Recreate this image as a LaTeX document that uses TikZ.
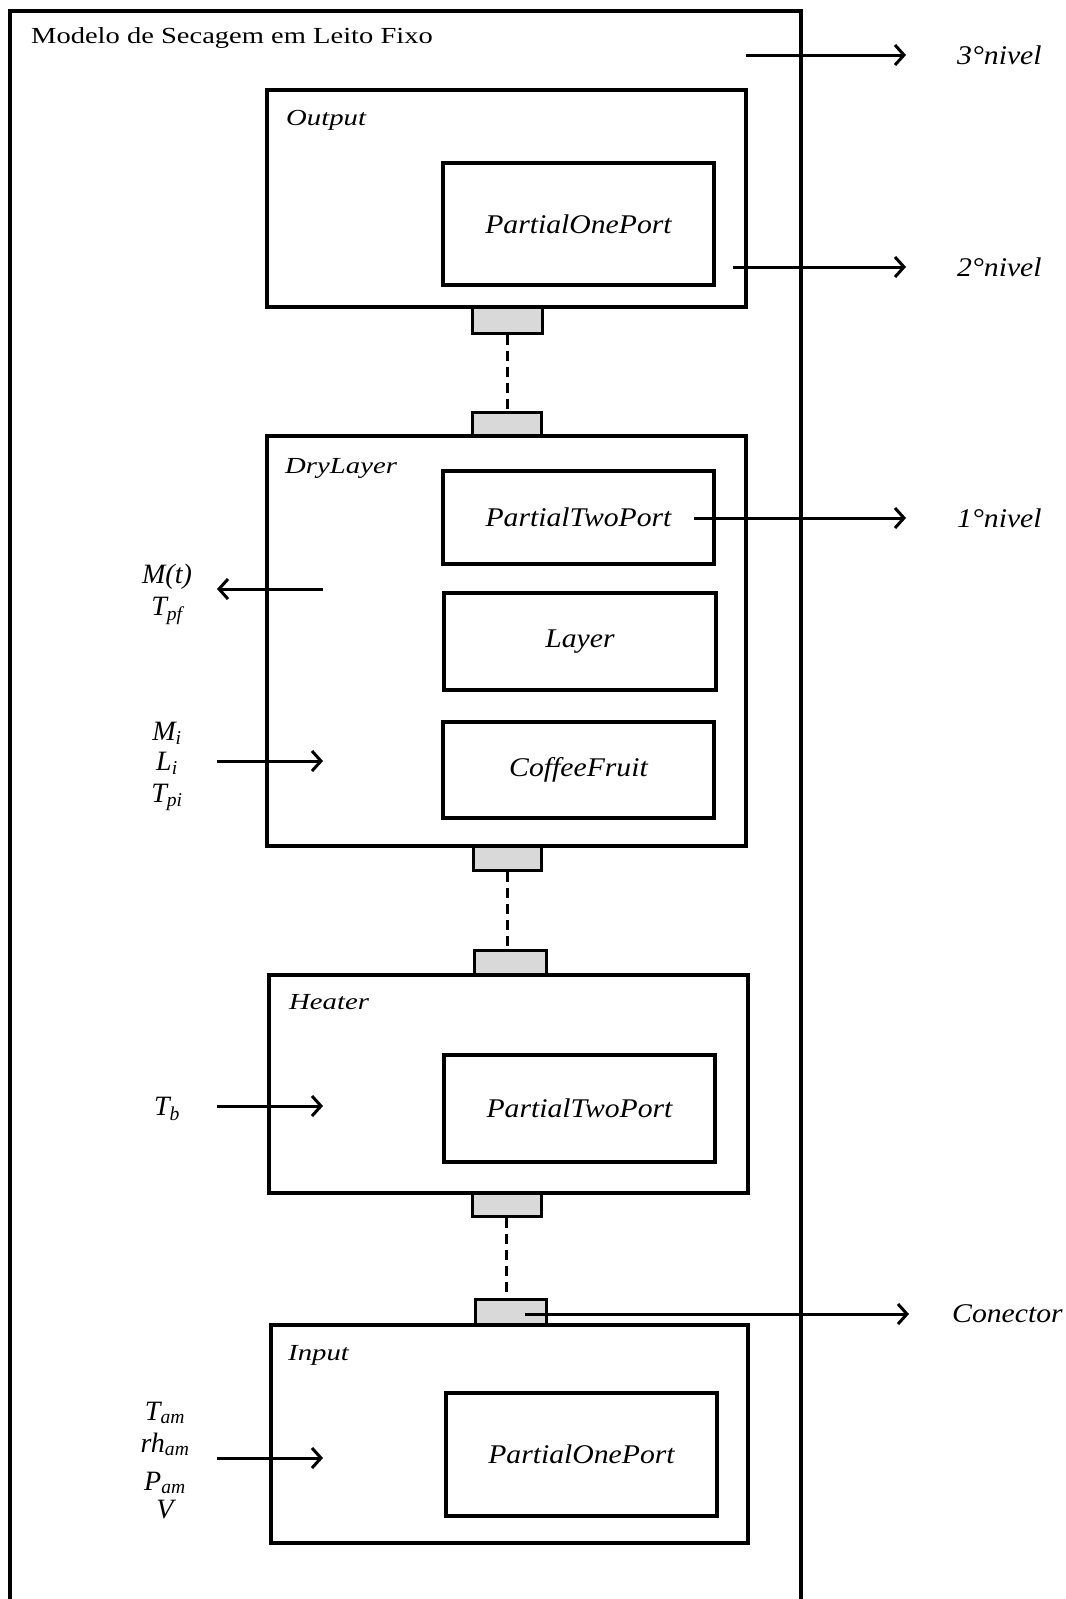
\documentclass[tikz,border=0pt]{standalone}
\usepackage{fontspec}
\setmainfont{Liberation Serif}
\usetikzlibrary{arrows.meta}
\definecolor{portgray}{HTML}{D9D9D9}
\newcommand\ilab[1]{\scalebox{1.1}[1]{\fontsize{27}{30}\selectfont\itshape #1}}
\newcommand\flab[1]{\scalebox{1.25}[1]{\fontsize{23}{26}\selectfont\itshape #1}}
\newcommand\mlab[1]{{\fontsize{28}{30}\selectfont\itshape #1}}
\begin{document}
\begin{tikzpicture}[x=1pt,y=-1pt,
  outerframe/.style={line width=4pt},
  frame/.style={draw,line width=3.5pt,inner sep=0pt},
  innerbox/.style={draw,line width=4pt,inner sep=0pt},
  port/.style={draw,line width=3pt,fill=portgray,inner sep=0pt},
  link/.style={line width=3pt,dash pattern=on 10pt off 6pt},
  arr/.style={line width=3pt,-{Straight Barb[length=9pt,width=20pt,line width=3pt]}},
  flabel/.style={anchor=base west,inner sep=0pt},
  mtext/.style={anchor=base,inner sep=0pt},
  lvl/.style={anchor=west,inner sep=0pt}]
\fill[white] (0,0) rectangle (1066,1599);
\useasboundingbox (0,0) rectangle (1066,1599);

% outer frame (3rd level)
\draw[outerframe] (10,1599) -- (10,11) -- (801,11) -- (801,1599);
\node[anchor=base west,inner sep=0pt] (title) at (31,43)
  {\scalebox{1.24}[1]{\fontsize{23}{26}\selectfont Modelo de Secagem em Leito Fixo}};

% connector ports
\node[port,minimum width=70,minimum height=26] (C1) at (507,320) {};
\node[port,minimum width=69,minimum height=24] (C2) at (506.5,424) {};
\node[port,minimum width=68,minimum height=24] (C3) at (507,858) {};
\node[port,minimum width=72,minimum height=25] (C4) at (510,962.5) {};
\node[port,minimum width=69,minimum height=23] (C5) at (506.5,1204.5) {};
\node[port,minimum width=71,minimum height=26] (C6) at (510.5,1312) {};

% Output
\node[frame,minimum width=479,minimum height=217] (output) at (506.5,198.5) {};
\node[flabel] (outputlab) at (286,125) {\flab{Output}};
\node[innerbox,minimum width=271,minimum height=122] (opo) at (578.5,224) {\ilab{PartialOnePort}};

% DryLayer
\node[frame,minimum width=479,minimum height=410] (dry) at (506.5,641) {};
\node[flabel] (drylab) at (285,473) {\flab{DryLayer}};
\node[innerbox,minimum width=271,minimum height=93] (dpt) at (578.5,517.5) {\ilab{PartialTwoPort}};
\node[innerbox,minimum width=272,minimum height=97] (layer) at (580,641.5) {\ilab{Layer}};
\node[innerbox,minimum width=271,minimum height=96] (coffee) at (578.5,770) {\ilab{CoffeeFruit}};

% Heater
\node[frame,minimum width=479,minimum height=218] (heater) at (508.5,1084) {};
\node[flabel] (heaterlab) at (289,1009) {\flab{Heater}};
\node[innerbox,minimum width=271,minimum height=107] (hpt) at (579.5,1108.5) {\ilab{PartialTwoPort}};

% Input
\node[frame,minimum width=477,minimum height=218] (input) at (509.5,1434) {};
\node[flabel] (inputlab) at (288,1360) {\flab{Input}};
\node[innerbox,minimum width=271,minimum height=123] (ipo) at (581.5,1454.5) {\ilab{PartialOnePort}};

% dashed links between ports
\draw[link] (C1.south) -- (C1.south |- C2.north);
\draw[link] (C3.south) -- (C3.south |- C4.north);
\draw[link] (C5.south) -- (C5.south |- C6.north);

% level labels
\node[lvl] (lvl3) at (957,55) {\ilab{3°nivel}};
\node[lvl] (lvl2) at (957,267) {\ilab{2°nivel}};
\node[lvl] (lvl1) at (957,518) {\ilab{1°nivel}};
\node[lvl] (lvlc) at (952,1314) {\ilab{Conector}};
\coordinate (s3) at (746,55);
\coordinate (s2) at (733,267);
\coordinate (s1) at (694,518);
\coordinate (sc) at (525,1314);
\draw[arr] (s3) -- ([xshift=-51pt]lvl3.west);
\draw[arr] (s2) -- ([xshift=-51pt]lvl2.west);
\draw[arr] (s1) -- ([xshift=-51pt]lvl1.west);
\draw[arr] (sc) -- ([xshift=-43pt]lvlc.west);

% DryLayer variables
\node[mtext] (mt) at (167,583) {\mlab{M(t)}};
\node[mtext] (tpf) at (167,615) {\mlab{T\textsubscript{pf}}};
\node[mtext] (mi) at (167,740) {\mlab{M\textsubscript{i}}};
\node[mtext] (li) at (167,770) {\mlab{L\textsubscript{i}}};
\node[mtext] (tpi) at (167,802) {\mlab{T\textsubscript{pi}}};
\coordinate (dryout) at (323,589);
\coordinate (dryoutend) at (217,589);
\coordinate (dryinstart) at (217,761);
\coordinate (dryin) at (323,761);
\draw[arr] (dryout) -- (dryoutend);
\draw[arr] (dryinstart) -- (dryin);

% Heater variable
\node[mtext] (tb) at (167,1115) {\mlab{T\textsubscript{b}}};
\coordinate (heatinstart) at (217,1106);
\coordinate (heatin) at (323,1106);
\draw[arr] (heatinstart) -- (heatin);

% Input variables
\node[mtext] (tam) at (165,1420) {\mlab{T\textsubscript{am}}};
\node[mtext] (rham) at (165,1452) {\mlab{rh\textsubscript{am}}};
\node[mtext] (pam) at (165,1490) {\mlab{P\textsubscript{am}}};
\node[mtext] (vv) at (165,1518) {\mlab{V}};
\coordinate (inpinstart) at (217,1458);
\coordinate (inpin) at (323,1458);
\draw[arr] (inpinstart) -- (inpin);
\end{tikzpicture}
\end{document}
